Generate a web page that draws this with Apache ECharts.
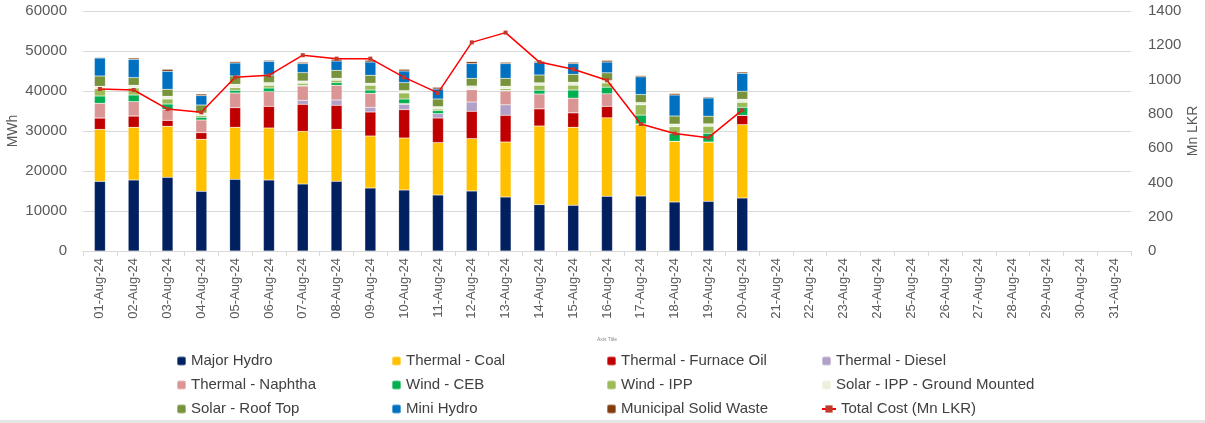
<!DOCTYPE html>
<html>
<head>
<meta charset="utf-8">
<script src="https://cdn.jsdelivr.net/npm/echarts@6/dist/echarts.min.js"></script>
<style>html,body{margin:0;padding:0;background:#fff}#c{width:1205px;height:423px}</style>
</head>
<body>
<div id="c"></div>
<script>
const categories = ['01-Aug-24','02-Aug-24','03-Aug-24','04-Aug-24','05-Aug-24','06-Aug-24','07-Aug-24','08-Aug-24','09-Aug-24','10-Aug-24','11-Aug-24','12-Aug-24','13-Aug-24','14-Aug-24','15-Aug-24','16-Aug-24','17-Aug-24','18-Aug-24','19-Aug-24','20-Aug-24','21-Aug-24','22-Aug-24','23-Aug-24','24-Aug-24','25-Aug-24','26-Aug-24','27-Aug-24','28-Aug-24','29-Aug-24','30-Aug-24','31-Aug-24'];
const majorHydro = [17400,17750,18425,14925,17925,17750,16750,17425,15750,15250,14000,15000,13500,11600,11425,13675,13750,12250,12425,13250];
const thermalCoal = [13000,13175,12750,13000,13000,13000,13175,13000,13000,13000,13100,13100,13750,19650,19500,19625,17925,15175,14825,18350];
const furnaceOil = [2850,2825,1500,1675,4925,5425,6750,6000,6000,7100,6150,6825,6675,4300,3625,2875,100,0,0,2325];
const thermalDiesel = [0,0,0,0,0,0,1000,1325,1175,1325,1100,2325,2625,0,0,0,0,0,0,0];
const thermalNaphtha = [3675,3600,2750,3150,3650,3675,3575,3675,3500,200,0,3100,3450,3700,3650,3125,0,0,0,0];
const windCEB = [1825,1650,1325,675,675,900,150,675,825,1125,750,100,150,950,2050,1650,2200,2000,2175,2000];
const windIPP = [1850,1750,1250,425,675,675,525,575,1175,1500,400,150,450,1225,1200,1050,2575,1650,1750,1250];
const solarIPPGround = [575,675,675,650,825,675,575,500,500,600,600,650,575,625,725,600,575,650,625,750];
const solarRoofTop = [2575,1925,1750,2000,2075,1900,2100,2000,2000,2000,1900,1925,2000,1950,2000,1950,2000,2025,1900,2000];
const miniHydro = [4500,4575,4500,2350,3250,3425,2250,2325,3325,2900,2500,3675,3675,3150,2675,2700,4425,5250,4550,4500];
const municipalWaste = [175,325,500,400,350,250,325,425,425,425,425,500,325,275,325,400,300,375,250,325];
const totalCost = [945,939,828,809,1013,1025,1142,1122,1122,1013,922,1217,1274,1102,1060,996,741,685,661,822];
const leftTicks = {min:0, max:60000, interval:10000};
const rightTicks = {min:0, max:1400, interval:200};

const barDefs = [
  ['Major Hydro', majorHydro, '#002060'],
  ['Thermal - Coal', thermalCoal, '#FFC000'],
  ['Thermal - Furnace Oil', furnaceOil, '#C00000'],
  ['Thermal - Diesel', thermalDiesel, '#B1A0C7'],
  ['Thermal - Naphtha', thermalNaphtha, '#DA9694'],
  ['Wind - CEB', windCEB, '#00B050'],
  ['Wind - IPP', windIPP, '#9BBB59'],
  ['Solar - IPP - Ground Mounted', solarIPPGround, '#EBF1DE'],
  ['Solar - Roof Top', solarRoofTop, '#77933C'],
  ['Mini Hydro', miniHydro, '#0070C0'],
  ['Municipal Solid Waste', municipalWaste, '#843C0C']
];
const lineName = 'Total Cost (Mn LKR)';

const series = barDefs.map(([name, data, color]) => ({
  name, type: 'bar', stack: 'gen', data, barWidth: 11,
  itemStyle: {color, borderColor: 'rgba(255,255,255,0.35)', borderWidth: 0.5},
  emphasis: {disabled: true}
}));
series.push({
  name: lineName, type: 'line', yAxisIndex: 1, data: totalCost,
  symbol: 'rect', symbolSize: 4, showSymbol: true,
  lineStyle: {color: '#FF0000', width: 1.5},
  itemStyle: {color: '#C0392B'}, z: 5
});

const legendNames = barDefs.map(d => d[0]).concat([lineName]);
const colX = [176, 391, 606, 821];
const rowY = [361, 385, 409];
const legends = legendNames.map((n, i) => ({
  data: [n], left: colX[i % 4], top: rowY[Math.floor(i / 4)] - 8, padding: 0,
  itemWidth: n === lineName ? 14 : 9, itemHeight: 9, selectedMode: false,
  textStyle: {fontFamily: 'Liberation Sans', fontSize: 15, color: '#404040', lineHeight: 16}
}));

const txt = '#595959';
const chart = echarts.init(document.getElementById('c'), null, {renderer: 'canvas'});
chart.setOption({
  animation: false,
  grid: {left: 83, right: 74, top: 11, bottom: 172, containLabel: false, outerBoundsMode: 'none'},
  legend: legends,
  xAxis: {
    type: 'category', data: categories,
    name: 'Axis Title', nameLocation: 'middle', nameGap: 86, nameMoveOverlap: false,
    nameTextStyle: {fontSize: 5, color: '#888'},
    axisLine: {lineStyle: {color: '#D9D9D9'}},
    axisTick: {show: true, length: 5, lineStyle: {color: '#D9D9D9'}},
    axisLabel: {rotate: 90, interval: 0, margin: 7, fontFamily: 'Liberation Sans', fontSize: 13, color: txt}
  },
  yAxis: [
    {type: 'value', min: leftTicks.min, max: leftTicks.max, interval: leftTicks.interval,
     name: 'MWh', nameLocation: 'middle', nameGap: 63, nameRotate: 90, nameMoveOverlap: false,
     nameTextStyle: {fontFamily: 'Liberation Sans', fontSize: 14, color: txt},
     axisLine: {show: false}, axisTick: {show: false},
     splitLine: {lineStyle: {color: '#D9D9D9', width: 1}},
     axisLabel: {margin: 16, fontFamily: 'Liberation Sans', fontSize: 15, color: txt, formatter: v => String(v)}},
    {type: 'value', min: rightTicks.min, max: rightTicks.max, interval: rightTicks.interval,
     name: 'Mn LKR', nameLocation: 'middle', nameGap: 55, nameRotate: 90, nameMoveOverlap: false,
     nameTextStyle: {fontFamily: 'Liberation Sans', fontSize: 14, color: txt},
     axisLine: {show: false}, axisTick: {show: false}, splitLine: {show: false},
     axisLabel: {margin: 17, fontFamily: 'Liberation Sans', fontSize: 15, color: txt, formatter: v => String(v)}}
  ],
  graphic: [{type: 'rect', shape: {x: 0, y: 420, width: 1205, height: 3}, style: {fill: '#E6E6E6'}, silent: true}],
  series
});
</script>
</body>
</html>
